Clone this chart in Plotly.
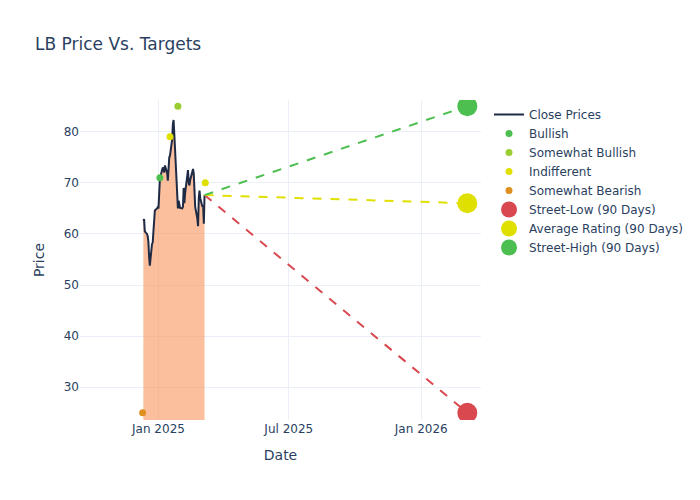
import pandas as pd
import plotly.graph_objects as go

# Close prices (business days 2024-12-11 .. 2025-03-06)
close_dates = pd.bdate_range("2024-12-11", "2025-03-06")
close_prices = [
    62.6, 62.9, 60.5, 60.0, 59.6, 58.5, 55.5, 53.8, 58.0, 58.3,
    60.5, 63.0, 64.6, 65.0, 65.2, 65.0, 68.0, 70.8, 72.5, 73.0,
    72.8, 72.0, 73.4, 72.0, 70.4, 74.0, 75.0, 75.3, 78.5, 81.5,
    82.3, 79.5, 76.5, 70.0, 65.0, 66.5, 65.3, 65.1, 65.0, 65.3,
    69.0, 66.0, 68.0, 71.5, 72.5, 70.0, 69.5, 70.5, 71.8, 72.7,
    71.8, 66.5, 65.3, 63.0, 61.5, 67.0, 68.5, 67.0, 65.3, 65.6,
    62.0, 67.6,
]

# Analyst ratings
bullish_dates = ["2025-01-03"]
bullish_values = [71]
sw_bullish_dates = ["2025-01-28"]
sw_bullish_values = [85]
indifferent_dates = ["2025-01-17", "2025-03-07"]
indifferent_values = [79, 70]
sw_bearish_dates = ["2024-12-10"]
sw_bearish_values = [25]

# 90-day targets
target_date = "2026-03-06"
street_low = 25
avg_rating = 66
street_high = 85

last_date = close_dates[-1]
last_price = close_prices[-1]

fig = go.Figure()

fig.add_trace(go.Scatter(
    x=close_dates, y=close_prices, mode="none", showlegend=False,
    fill="tozeroy", fillcolor="rgba(250,128,60,0.5)", hoverinfo="skip",
))
fig.add_trace(go.Scatter(
    x=close_dates, y=close_prices, mode="lines", name="Close Prices",
    line=dict(color="#1f2a44", width=2),
))

fig.add_trace(go.Scatter(x=bullish_dates, y=bullish_values, mode="markers",
                         name="Bullish", marker=dict(color="#4cbf50", size=7)))
fig.add_trace(go.Scatter(x=sw_bullish_dates, y=sw_bullish_values, mode="markers",
                         name="Somewhat Bullish", marker=dict(color="#9acd32", size=7)))
fig.add_trace(go.Scatter(x=indifferent_dates, y=indifferent_values, mode="markers",
                         name="Indifferent", marker=dict(color="#e0e000", size=7)))
fig.add_trace(go.Scatter(x=sw_bearish_dates, y=sw_bearish_values, mode="markers",
                         name="Somewhat Bearish", marker=dict(color="#e0901e", size=7)))

for val, col in [(street_low, "#d9474f"), (avg_rating, "#e0e000"), (street_high, "#4cbf50")]:
    fig.add_trace(go.Scatter(
        x=[last_date, target_date], y=[last_price, val], mode="lines",
        line=dict(color=col, width=2, dash="dash"), showlegend=False,
    ))

fig.add_trace(go.Scatter(x=[target_date], y=[street_low], mode="markers",
                         name="Street-Low (90 Days)", marker=dict(color="#d9474f", size=20)))
fig.add_trace(go.Scatter(x=[target_date], y=[avg_rating], mode="markers",
                         name="Average Rating (90 Days)", marker=dict(color="#e0e000", size=20)))
fig.add_trace(go.Scatter(x=[target_date], y=[street_high], mode="markers",
                         name="Street-High (90 Days)", marker=dict(color="#4cbf50", size=20)))

fig.update_layout(
    template="plotly_white",
    font=dict(family="DejaVu Sans"),
    title=dict(text="LB Price Vs. Targets"),
    xaxis=dict(title="Date", range=["2024-09-14", "2026-03-25"],
               tick0="2025-01-01", dtick="M6", tickformat="%b %Y"),
    yaxis=dict(title="Price", range=[23.6, 86.2]),
    width=700, height=500,
)

fig.write_html("out.html", config={"displayModeBar": False},
               post_script="document.body.style.margin='0';")
